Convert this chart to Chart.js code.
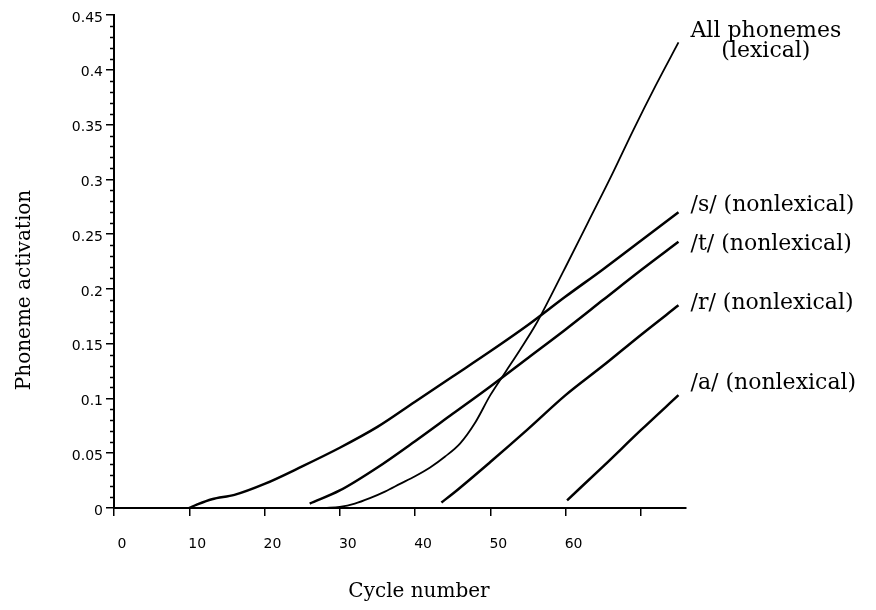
<!DOCTYPE html>
<html>
<head>
<meta charset="utf-8">
<script src="https://cdn.jsdelivr.net/npm/chart.js@4.4.1/dist/chart.umd.min.js"></script>
<style>
  html, body { margin: 0; padding: 0; background: #fff; }
  #wrap { width: 876px; height: 610px; }
</style>
</head>
<body>
<div id="wrap"><canvas id="activationChart" width="876" height="610"></canvas></div>
<script>
// activation per cycle for each phoneme unit
const allCycles = [28, 30, 32, 34, 36, 38, 40, 42, 44, 46, 48, 50, 52, 54, 56, 58, 60, 63, 66, 69, 72, 75];
const allActivation = [0, 0.001, 0.004, 0.009, 0.015, 0.022, 0.029, 0.037, 0.047, 0.059, 0.078, 0.103, 0.124, 0.145, 0.167, 0.193, 0.220, 0.261, 0.302, 0.345, 0.386, 0.425];

const sCycles = [10, 11, 13, 16, 20, 25, 30, 35, 40, 45, 50, 55, 60, 65, 70, 75];
const sActivation = [0, 0.003, 0.008, 0.012, 0.022, 0.038, 0.055, 0.074, 0.097, 0.120, 0.143, 0.167, 0.193, 0.218, 0.244, 0.270];

const tCycles = [26, 30, 35, 40, 45, 50, 55, 60, 65, 70, 75];
const tActivation = [0.004, 0.016, 0.037, 0.061, 0.086, 0.111, 0.137, 0.163, 0.190, 0.217, 0.243];

const rCycles = [43.5, 45, 50, 55, 60, 65, 70, 75];
const rActivation = [0.005, 0.013, 0.042, 0.072, 0.103, 0.130, 0.158, 0.185];

const aCycles = [60.2, 65, 70, 75];
const aActivation = [0.007, 0.038, 0.071, 0.103];

const seriesLabels = [
  ['All phonemes', '(lexical)'],
  ['/s/ (nonlexical)'],
  ['/t/ (nonlexical)'],
  ['/r/ (nonlexical)'],
  ['/a/ (nonlexical)']
];
const xTickLabels = ['0', '10', '20', '30', '40', '50', '60'];
const xTitle = 'Cycle number';
const yTitle = 'Phoneme activation';

function toPoints(xs, ys) {
  return xs.map((x, i) => ({ x: x, y: ys[i] }));
}

function lineSet(xs, ys, width) {
  return {
    data: toPoints(xs, ys),
    borderColor: '#000',
    borderWidth: width,
    pointRadius: 0,
    fill: false,
    cubicInterpolationMode: 'monotone'
  };
}

const serif = '"DejaVu Serif", "Liberation Serif", serif';

// end labels, minor ticks and axis titles
const annotate = {
  id: 'annotate',
  afterDraw(chart, args, opts) {
    const ctx = chart.ctx;
    const xs = chart.scales.x, ys = chart.scales.y;
    ctx.save();

    ctx.strokeStyle = '#000';
    ctx.lineWidth = 1.5;
    for (let i = 0; i <= 45; i++) {
      if (i % 5 === 0) continue;
      const py = Math.round(ys.getPixelForValue(i / 100)) + 0.5;
      ctx.beginPath();
      ctx.moveTo(xs.left - 4, py);
      ctx.lineTo(xs.left, py);
      ctx.stroke();
    }

    ctx.fillStyle = '#000';
    ctx.font = '22px ' + serif;
    ctx.textBaseline = 'middle';
    chart.data.datasets.forEach((ds, i) => {
      const last = ds.data[ds.data.length - 1];
      const px = xs.getPixelForValue(last.x) + 12;
      const py = ys.getPixelForValue(last.y) + opts.nudge[i];
      const lines = seriesLabels[i];
      if (lines.length === 1) {
        ctx.textAlign = 'left';
        ctx.fillText(lines[0], px, py);
      } else {
        const mid = px + ctx.measureText(lines[0]).width / 2;
        ctx.textAlign = 'center';
        ctx.fillText(lines[0], mid, py - 10);
        ctx.fillText(lines[1], mid, py + 10);
      }
    });

    ctx.font = '20px ' + serif;
    ctx.textAlign = 'center';
    ctx.fillText(xTitle, 419, 592);
    ctx.translate(25, 290);
    ctx.rotate(-Math.PI / 2);
    ctx.fillText(yTitle, 0, 0);
    ctx.restore();
  }
};

new Chart(document.getElementById('activationChart').getContext('2d'), {
  type: 'line',
  data: {
    datasets: [
      lineSet(allCycles, allActivation, 1.8),
      lineSet(sCycles, sActivation, 2.5),
      lineSet(tCycles, tActivation, 2.5),
      lineSet(rCycles, rActivation, 2.5),
      lineSet(aCycles, aActivation, 2.5)
    ]
  },
  options: {
    responsive: false,
    animation: false,
    layout: { padding: { top: 15, right: 190, left: 0, bottom: 0 } },
    plugins: {
      legend: { display: false },
      tooltip: { enabled: false },
      annotate: { nudge: [-1, -7, 3, -2, -12] }
    },
    scales: {
      x: {
        type: 'linear',
        min: 0,
        max: 76,
        afterFit(scale) { scale.height = 102; },
        border: { display: true, color: '#000', width: 2 },
        grid: { drawOnChartArea: false, drawTicks: true, tickLength: 8, color: '#000', lineWidth: 1.5 },
        ticks: {
          stepSize: 10,
          includeBounds: false,
          maxRotation: 0,
          autoSkip: false,
          padding: 20,
          labelOffset: 8,
          color: '#000',
          font: { family: '"DejaVu Sans", sans-serif', size: 14 },
          callback: (v) => xTickLabels[v / 10] || ''
        }
      },
      y: {
        min: 0,
        max: 0.45,
        afterFit(scale) { scale.width = 114; },
        border: { display: true, color: '#000', width: 2 },
        grid: { drawOnChartArea: false, drawTicks: true, tickLength: 8, color: '#000', lineWidth: 1.5 },
        ticks: {
          stepSize: 0.05,
          padding: 3,
          labelOffset: 3,
          color: '#000',
          font: { family: '"DejaVu Sans", sans-serif', size: 14 },
          callback: (v) => String(+v.toFixed(2))
        }
      }
    }
  },
  plugins: [annotate]
});
</script>
</body>
</html>
